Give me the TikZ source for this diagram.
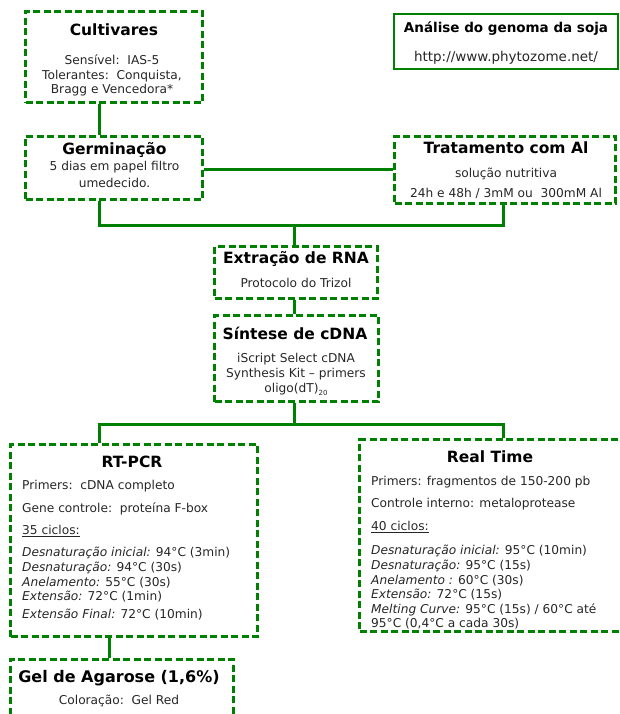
\documentclass[tikz,border=0pt]{standalone}
\usepackage{fontspec}
\setmainfont{DejaVu Sans}
\usetikzlibrary{fit}
\definecolor{gr}{HTML}{008000}
\definecolor{bodytxt}{HTML}{262626}
\tikzset{
  box/.style={draw=gr, line width=3pt, dash pattern=on 7pt off 3.5pt, inner sep=0pt, rectangle},
  solidbox/.style={draw=gr, line width=2.5pt, inner sep=0pt, rectangle},
  conn/.style={draw=gr, line width=3pt},
  ttl/.style={anchor=base, inner sep=0pt, font=\fontsize{15.5}{18}\selectfont\bfseries, text=black},
  ttls/.style={anchor=base, inner sep=0pt, font=\fontsize{13.5}{16}\selectfont\bfseries, text=black},
  bd/.style={anchor=base, inner sep=0pt, font=\fontsize{12.2}{14}\selectfont, text=bodytxt},
  bdl/.style={bd, anchor=base west},
}
\begin{document}
\begin{tikzpicture}[x=1pt,y=-1pt]
\useasboundingbox (0,0) rectangle (620,714);
% boxes
\node (cult) [box, fit={(25.5,11.5) (202.5,102.5)}] {};
\node (germ) [box, fit={(25.5,136.5) (202.5,199.5)}] {};
\node (anal) [solidbox, fit={(394,14) (618,69)}] {};
\node (trat) [box, fit={(394.5,136.5) (615.5,203.5)}] {};
\node (extr) [box, fit={(214.5,246.5) (377.5,298.5)}] {};
\node (sint) [box, fit={(214.5,315.5) (378.5,401.5)}] {};
\node (rtpcr) [box, fit={(10.5,444.5) (257.5,636.5)}] {};
\node (real) [box, fit={(359.5,439.5) (624,631)}] {};
\node (gel) [box, fit={(10.5,659) (233,722)}] {};
% junction coordinates
\coordinate (xl) at (99,0);
\coordinate (xm) at (294,0);
\coordinate (xr) at (503,0);
\coordinate (xg) at (109,0);
\coordinate (j1l) at (99,225);
\coordinate (j1r) at (503,225);
\coordinate (j2l) at (99,424);
\coordinate (j2r) at (503,424);
% connectors
\draw[conn] (cult.south -| xl) -- (germ.north -| xl);
\draw[conn] (germ.east |- 0,170) -- (trat.west |- 0,170);
\draw[conn] (germ.south -| xl) -- (j1l) -- (j1r) -- (trat.south -| xr);
\draw[conn] (xm |- j1l) -- (extr.north -| xm);
\draw[conn] (extr.south -| xm) -- (sint.north -| xm);
\draw[conn] (sint.south -| xm) -- (xm |- j2l);
\draw[conn] (rtpcr.north -| xl) -- (j2l) -- (j2r) -- (real.north -| xr);
\draw[conn] (rtpcr.south -| xg) -- (gel.north -| xg);
% texts
\node (cultT) [ttl] at (114,36) {Cultivares};
\node (cult1) [bd] at (112,64.5) {Sensível:\ \ IAS-5};
\node (cult2) [bd] at (112,79.5) {Tolerantes:\ \ Conquista,};
\node (cult3) [bd] at (112,93.5) {Bragg e Vencedora*};

\node (germT) [ttl] at (114.5,154.7) {Germinação};
\node (germ1) [bd] at (114.5,170.5) {5 dias em papel filtro};
\node (germ2) [bd] at (114.5,187.5) {umedecido.};

\node (analT) [ttls] at (506,33) {Análise do genoma da soja};
\node (anal1) [bd, font=\fontsize{13.5}{16}\selectfont] at (506,62) {http://www.phytozome.net/};

\node (tratT) [ttl] at (506,153.7) {Tratamento com Al};
\node (trat1) [bd] at (506,177.5) {solução nutritiva};
\node (trat2) [bd] at (506,197.5) {24h e 48h / 3mM ou\ \ 300mM Al};

\node (extrT) [ttl] at (296,263.7) {Extração de RNA};
\node (extr1) [bd] at (296,287.5) {Protocolo do Trizol};

\node (sintT) [ttl] at (295,339.5) {Síntese de cDNA};
\node (sint1) [bd] at (296,362.5) {iScript Select cDNA};
\node (sint2) [bd] at (296,377.5) {Synthesis Kit – primers};
\node (sint3) [bd] at (296,392.5) {oligo(dT)\raisebox{-3pt}{\fontsize{7}{7}\selectfont 20}};

\node (rtT) [ttl] at (132,467.7) {RT-PCR};
\node (rt1) [bdl] at (22,489.5) {Primers:\ \ cDNA completo};
\node (rt2) [bdl] at (22,512.5) {Gene controle:\ \ proteína F-box};
\node (rt3) [bdl] at (22,534.5) {\underline{35 ciclos:}};
\node (rt4) [bdl] at (22,556.5) {\textit{Desnaturação inicial:} 94°C (3min)};
\node (rt5) [bdl] at (22,571.5) {\textit{Desnaturação:} 94°C (30s)};
\node (rt6) [bdl] at (22,586.5) {\textit{Anelamento:} 55°C (30s)};
\node (rt7) [bdl] at (22,600.5) {\textit{Extensão:} 72°C (1min)};
\node (rt8) [bdl] at (22,618.5) {\textit{Extensão Final:} 72°C (10min)};

\node (reT) [ttl] at (490,462.7) {Real Time};
\node (re1) [bdl] at (371,485.5) {Primers: fragmentos de 150-200 pb};
\node (re2) [bdl] at (371,507.5) {Controle interno: metaloprotease};
\node (re3) [bdl] at (371,530.5) {\underline{40 ciclos:}};
\node (re4) [bdl] at (371,554.5) {\textit{Desnaturação inicial:} 95°C (10min)};
\node (re5) [bdl] at (371,569.5) {\textit{Desnaturação:} 95°C (15s)};
\node (re6) [bdl] at (371,584.5) {\textit{Anelamento :} 60°C (30s)};
\node (re7) [bdl] at (371,598.5) {\textit{Extensão:} 72°C (15s)};
\node (re8) [bdl] at (371,613.5) {\textit{Melting Curve:} 95°C (15s) / 60°C até};
\node (re9) [bdl] at (371,627.3) {95°C (0,4°C a cada 30s)};

\node (gelT) [ttl, font=\fontsize{16}{18}\selectfont\bfseries] at (119,682) {Gel de Agarose (1,6\%)};
\node (gel1) [bd] at (119,704.5) {Coloração:\ \ Gel Red};
\end{tikzpicture}
\end{document}
